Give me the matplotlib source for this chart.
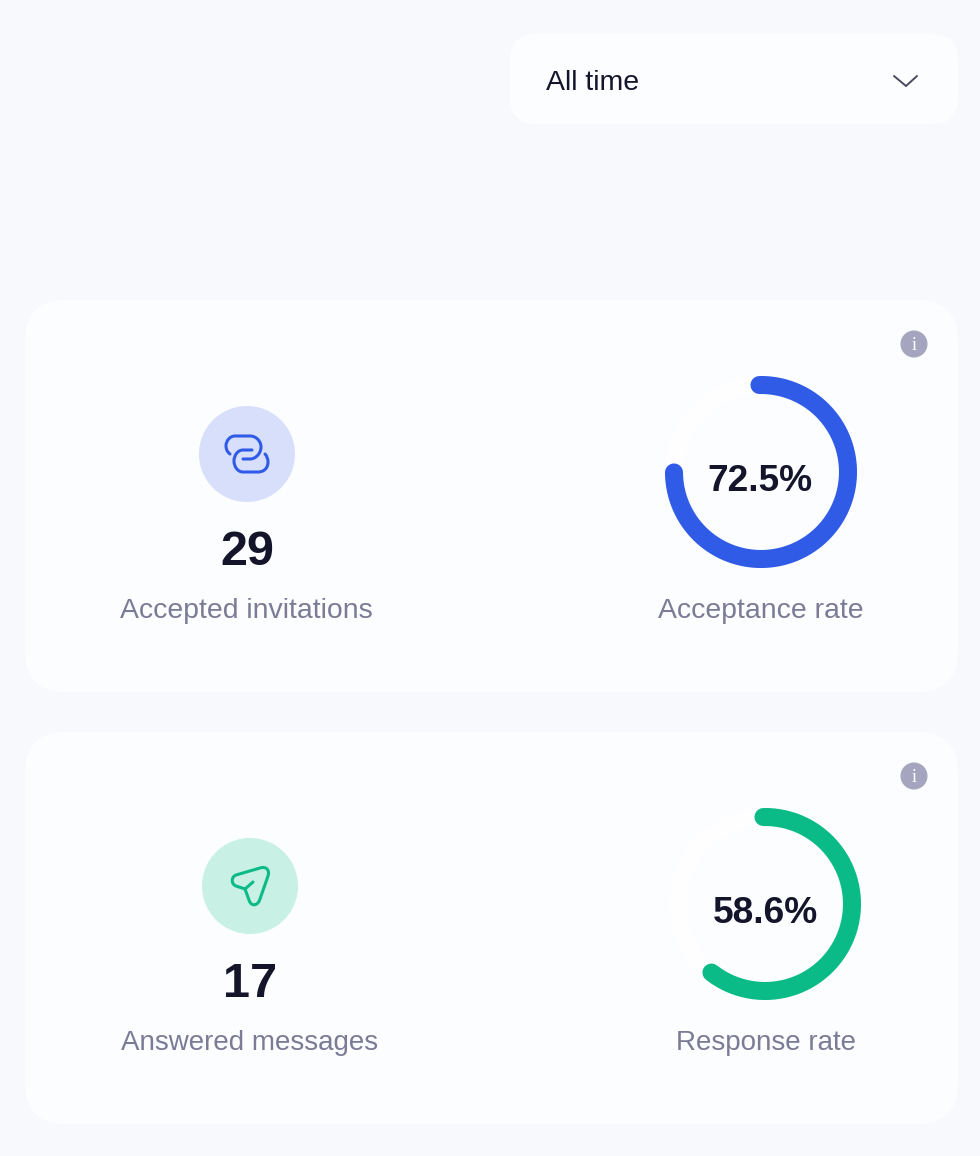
import numpy as np
import matplotlib
matplotlib.use("Agg")
import matplotlib.pyplot as plt
from matplotlib.patches import FancyBboxPatch, Circle, PathPatch
from matplotlib.path import Path

plt.rcParams['font.family'] = ['Liberation Sans', 'DejaVu Sans']

# values
count_values = [29, 17]
count_labels = ['Accepted invitations', 'Answered messages']
rate_values = [72.5, 58.6]
rate_labels = ['Acceptance rate', 'Response rate']
period_label = 'All time'

BG = '#F7F9FD'
CARD = '#FCFDFF'
TRACK = '#FEFEFF'
DARK = '#14142B'
GREY = '#7B7B96'
INFO = '#A5A5C0'
ring_colors = ['#2F5BE7', '#0BBB87']
badge_colors = ['#D8DFFB', '#C9F0E4']

# the arcs in the screenshot run a bit past value*3.6 degrees
DEG_PER_PCT = 3.72
RING_R = 87
RING_W = 13

card_tops = [300, 732]
ring_centers = [(761, 472), (765, 904)]
badge_centers = [(247, 454), (250, 886)]
count_x = [247, 250]
label_x = [246, 250]
rate_text_x = [760, 765]
rate_label_x = [761, 766]
label_sizes = [20.4, 20.0]

M, L, C3, C4 = Path.MOVETO, Path.LINETO, Path.CURVE3, Path.CURVE4


def rounded(ax, x0, y0, x1, y1, r, color):
    ax.add_patch(FancyBboxPatch((x0 + r, y0 + r), x1 - x0 - 2 * r, y1 - y0 - 2 * r,
                                boxstyle='round,pad=%d,rounding_size=%d' % (r, r),
                                fc=color, ec='none'))


def stroke_icon(ax, cx, cy, verts, codes, color):
    verts = [(cx + x, cy + y) for x, y in verts]
    ax.add_patch(PathPatch(Path(verts, codes), fc='none', ec=color, lw=2.2,
                           capstyle='round', joinstyle='round'))


def draw_link_icon(ax, cx, cy, color):
    verts = [(-17, 0), (-21, -3), (-21, -8),
             (-21, -13.5), (-17, -18), (-12, -18),
             (3, -18),
             (9, -18), (14, -13), (14, -7),
             (14, -1), (9, 5), (3, 5),
             (-4, 5),
             (5, -4), (-4, -4),
             (-9, -4), (-13, 1), (-13, 7),
             (-13, 13), (-9, 18), (-4, 18),
             (11, 18),
             (17, 18), (21, 14), (21, 8),
             (21, 3), (18, 0)]
    codes = [M, C3, C3, C4, C4, C4, L, C4, C4, C4, C4, C4, C4, L,
             M, L, C4, C4, C4, C4, C4, C4, L, C4, C4, C4, C3, C3]
    stroke_icon(ax, cx, cy, verts, codes, color)


def draw_send_icon(ax, cx, cy, color):
    verts = [(-5, 3), (-14, 0),
             (-19, -2), (-19, -9), (-14, -11),
             (10, -18),
             (16, -20), (20, -16), (18, -10),
             (10, 13),
             (8, 20), (1, 21), (-1, 14),
             (-5, 3),
             (-5, 3), (3, -4)]
    codes = [M, L, C4, C4, C4, L, C4, C4, C4, L, C4, C4, C4, L, M, L]
    stroke_icon(ax, cx, cy, verts, codes, color)


def draw_ring(ax, cx, cy, value, color):
    t = np.radians(np.linspace(0, 360, 181))
    ax.plot(cx + RING_R * np.sin(t), cy - RING_R * np.cos(t), color=TRACK, lw=RING_W)
    t = np.radians(np.linspace(-1, value * DEG_PER_PCT, 200))
    ax.plot(cx + RING_R * np.sin(t), cy - RING_R * np.cos(t), color=color, lw=RING_W,
            solid_capstyle='round')


fig = plt.figure(figsize=(9.8, 11.56), dpi=100, facecolor=BG)
ax = fig.add_axes([0, 0, 1, 1])
ax.set_xlim(0, 980)
ax.set_ylim(1156, 0)
ax.set_axis_off()

# period dropdown
rounded(ax, 510, 34, 958, 124, 26, CARD)
ax.text(546, 90, period_label, fontsize=20.5, color=DARK, va='baseline')
ax.plot([894, 906, 917], [76, 86, 76], color='#4A4A5C', lw=1.4,
        solid_capstyle='round', solid_joinstyle='miter')

icons = [draw_link_icon, draw_send_icon]
for i in range(2):
    top = card_tops[i]
    rounded(ax, 25, top, 958, top + 392, 40, CARD)

    # info mark
    ax.add_patch(Circle((914, top + 44), 13.5, fc=INFO, ec='none'))
    ax.text(914, top + 50, 'i', fontsize=13, color='white', ha='center', va='baseline',
            family=['Liberation Serif'])

    bx, by = badge_centers[i]
    ax.add_patch(Circle((bx, by), 48, fc=badge_colors[i], ec='none'))
    icons[i](ax, bx, by, ring_colors[i])

    ax.text(count_x[i], top + 265, str(count_values[i]), fontsize=35, fontweight='bold',
            color=DARK, ha='center', va='baseline')
    ax.text(label_x[i], top + 318, count_labels[i], fontsize=label_sizes[i], color=GREY,
            ha='center', va='baseline')

    cx, cy = ring_centers[i]
    draw_ring(ax, cx, cy, rate_values[i], ring_colors[i])
    ax.text(rate_text_x[i], cy + 19, '%.1f%%' % rate_values[i], fontsize=26.7, fontweight='bold',
            color=DARK, ha='center', va='baseline')
    ax.text(rate_label_x[i], top + 318, rate_labels[i], fontsize=label_sizes[i], color=GREY,
            ha='center', va='baseline')

fig.savefig('out.png', dpi=100, facecolor=BG)
